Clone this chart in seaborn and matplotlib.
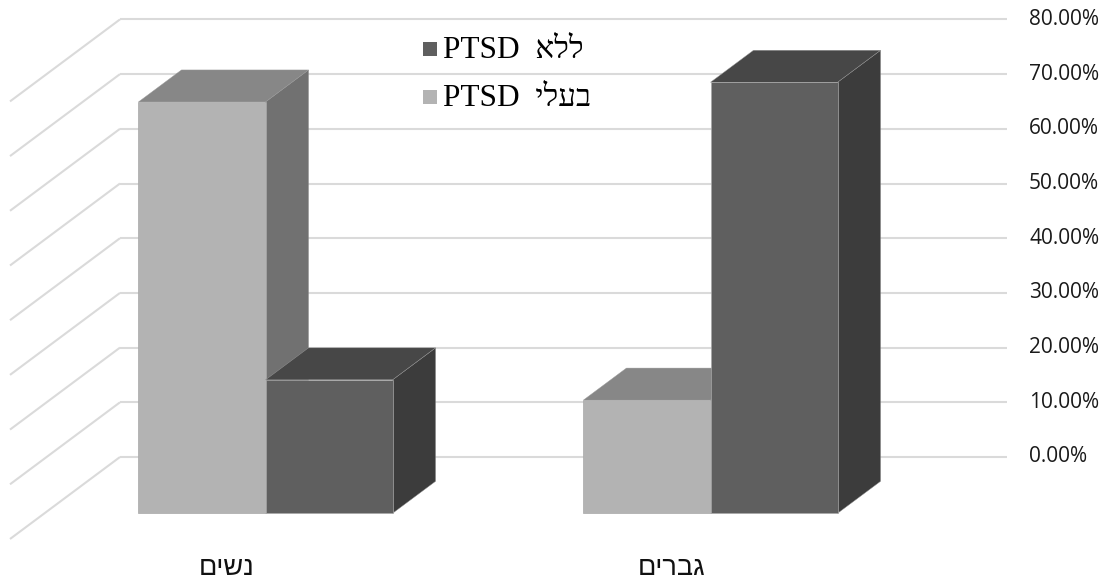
import numpy as np
import pandas as pd
import matplotlib
matplotlib.use("Agg")
import matplotlib.pyplot as plt
from matplotlib.patches import Polygon, Rectangle
from matplotlib.transforms import Affine2D
import seaborn as sns

# ---- data -------------------------------------------------------------
groups = ["נשים", "גברים"]
series = ["בעלי PTSD", "ללא PTSD"]
with_ptsd = [0.752, 0.207]
without_ptsd = [0.244, 0.788]
tick_values = [0.0, 0.1, 0.2, 0.3, 0.4, 0.5, 0.6, 0.7, 0.8]
tick_labels = ["0.00%", "10.00%", "20.00%", "30.00%", "40.00%",
               "50.00%", "60.00%", "70.00%", "80.00%"]

# ---- styling ----------------------------------------------------------
front_colors = {series[0]: "#b3b3b3", series[1]: "#5f5f5f"}
top_colors = {series[0]: "#878787", series[1]: "#474747"}
side_colors = {series[0]: "#717171", series[1]: "#3c3c3c"}
grid_color = "#dadada"

W, H = 1105, 583
X0, XS = 265.5, 445.0      # pixel x of first category, pixels per category
Y0, YS = 513.3, 547.0      # pixel y of value 0 on the front plane, pixels per unit


def px_dx(p):
    return p / XS


def px_dy(p):
    return p / YS


# oblique projection offsets (pixels: +x right, +y up)
BAR_DEPTH = (43.0, 32.0)
WALL_OFF = (75.6, 56.3)
FLOOR_FRONT = (-34.4, -25.7)


def visual(s, sep=" "):
    """Reorder right-to-left words for left-to-right glyph layout."""
    out = []
    for w in reversed(s.split(" ")):
        if any("\u0590" <= c <= "\u05ff" for c in w):
            out.append(w[::-1])
        else:
            out.append(w)
    return sep.join(out)


df = pd.DataFrame({
    "group": groups * 2,
    "series": [series[0]] * 2 + [series[1]] * 2,
    "value": with_ptsd + without_ptsd,
})

sns.set_theme(style="white")
plt.rcParams["font.family"] = ["Open Sans", "DejaVu Sans"]

fig = plt.figure(figsize=(W / 100, H / 100), dpi=100)
ax = fig.add_axes([0, 0, 1, 1])

sns.barplot(data=df, x="group", y="value", hue="series", order=groups,
            hue_order=series, palette=front_colors, width=0.571, gap=0,
            saturation=1, legend=False, ax=ax, linewidth=0.5,
            edgecolor="#a8a8a8")

ax.set_xlim(-X0 / XS, (W - X0) / XS)
ax.set_ylim((Y0 - H) / YS, Y0 / YS)
ax.axis("off")

# ---- walls ------------------------------------------------------------
wx0, wy0 = px_dx(WALL_OFF[0]), px_dy(WALL_OFF[1])
wall_left = (120 - X0) / XS
wall_right = (1007 - X0) / XS
fx, fy = px_dx(FLOOR_FRONT[0] - WALL_OFF[0]), px_dy(FLOOR_FRONT[1] - WALL_OFF[1])
for v, lab in zip(tick_values, tick_labels):
    yw = v + wy0
    ax.plot([wall_left, wall_right], [yw, yw], color=grid_color, lw=1.5,
            zorder=0.5, solid_capstyle="butt")
    ax.plot([wall_left, wall_left + fx], [yw, yw + fy], color=grid_color,
            lw=1.5, zorder=0.5, solid_capstyle="butt")
    ax.text(wall_right + px_dx(22), yw, lab, ha="left", va="center",
            fontsize=15, color="#1a1a1a")

# ---- 3-D faces on every bar, painted left to right ---------------------
bars = sorted(ax.patches, key=lambda p: p.get_x())
ddx, ddy = px_dx(BAR_DEPTH[0]), px_dy(BAR_DEPTH[1])
for i, bar in enumerate(bars):
    x, w, h = bar.get_x(), bar.get_width(), bar.get_height()
    s = series[0] if bar.get_facecolor()[0] > 0.5 else series[1]
    z = 2 + 3 * i
    side = Polygon([(x + w, 0), (x + w + ddx, ddy), (x + w + ddx, h + ddy),
                    (x + w, h)], closed=True, fc=side_colors[s],
                   ec="#8a8a8a", lw=0.3, zorder=z)
    top = Polygon([(x, h), (x + ddx, h + ddy), (x + w + ddx, h + ddy),
                   (x + w, h)], closed=True, fc=top_colors[s],
                  ec="#9a9a9a", lw=0.3, zorder=z + 1)
    ax.add_patch(side)
    ax.add_patch(top)
    bar.set_zorder(z + 2)

# ---- category labels on the floor edge -------------------------------
for i, g in enumerate(groups):
    ax.text(i + px_dx(-39), px_dy(-55), visual(g), ha="center",
            va="center", fontsize=19.5, color="#111111",
            family=["Liberation Sans", "DejaVu Sans"])

# ---- legend ------------------------------------------------------------
pix = Affine2D().scale(1 / W, -1 / H).translate(0, 1) + fig.transFigure
legend_rows = [(series[1], 49), (series[0], 97)]
for s, yc in legend_rows:
    fig.patches.append(Rectangle((423, yc - 7), 14, 14, transform=pix,
                                 fc=front_colors[s], ec="none"))
    fig.text(443, yc + 1, visual(s, sep="  "), transform=pix, ha="left",
             va="center", fontsize=22.5, color="#000000",
             family=["Liberation Serif", "DejaVu Serif", "DejaVu Sans"])

fig.savefig("out.png", dpi=100)
